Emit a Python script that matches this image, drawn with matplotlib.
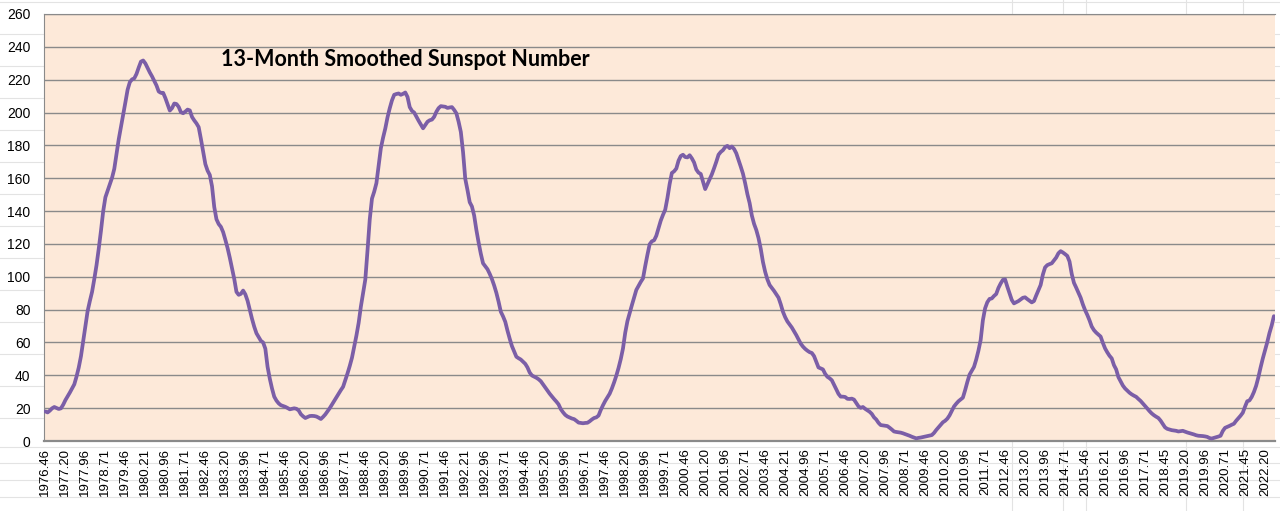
import numpy as np
import matplotlib
matplotlib.use("Agg")
import matplotlib.pyplot as plt
from matplotlib.lines import Line2D

# 13-month smoothed sunspot number, monthly from 1976.46 (one row per 12 months)
sunspots = [
    18.0, 17.4, 18.5, 19.9, 20.7, 20.1, 19.5, 19.9, 22.1, 24.9, 27.2, 29.5,
    32.0, 34.5, 39.2, 44.7, 51.6, 60.6, 69.9, 79.1, 85.2, 90.8, 98.6, 107.0,
    117.0, 127.9, 139.8, 148.4, 152.4, 156.3, 160.3, 165.7, 174.8, 183.7, 191.1, 198.5,
    206.2, 213.9, 218.5, 220.2, 220.8, 223.5, 227.4, 231.0, 231.7, 229.9, 227.1, 224.4,
    222.0, 219.2, 216.5, 212.8, 212.0, 212.0, 208.8, 204.9, 201.2, 202.7, 205.5, 205.2,
    203.4, 200.2, 199.6, 200.6, 201.8, 201.3, 197.3, 195.2, 193.4, 191.1, 183.9, 176.2,
    168.6, 164.6, 162.0, 155.1, 142.5, 135.0, 132.1, 130.4, 127.2, 122.5, 117.5, 111.6,
    105.3, 98.7, 90.8, 89.0, 89.6, 91.6, 89.3, 85.4, 80.0, 74.4, 69.6, 65.6,
    63.3, 61.0, 60.0, 56.2, 45.2, 38.0, 32.0, 27.0, 24.6, 22.9, 21.8, 21.3,
    20.8, 20.1, 19.3, 19.6, 19.9, 19.6, 18.6, 16.3, 15.0, 14.0, 14.6, 15.2,
    15.3, 15.2, 14.9, 14.2, 13.4, 14.7, 16.2, 18.1, 20.0, 22.2, 24.3, 26.6,
    28.9, 31.0, 33.0, 37.0, 41.2, 45.7, 50.7, 57.5, 64.2, 71.9, 81.8, 90.0,
    98.3, 116.1, 134.9, 147.6, 151.8, 157.0, 167.9, 178.3, 184.7, 190.3, 197.1, 202.6,
    207.4, 210.8, 211.3, 211.6, 210.8, 211.4, 212.2, 209.5, 203.3, 201.0, 200.0, 197.5,
    195.0, 192.7, 190.4, 192.4, 194.4, 195.3, 195.7, 197.4, 200.5, 202.7, 203.9, 203.7,
    203.5, 202.8, 203.1, 203.3, 201.6, 199.5, 194.4, 188.2, 175.9, 159.6, 152.8, 145.4,
    142.8, 137.3, 128.5, 120.9, 114.0, 108.2, 106.4, 104.6, 101.8, 98.6, 94.7, 90.2,
    84.8, 78.7, 75.9, 72.6, 67.2, 62.3, 57.8, 54.6, 51.3, 50.4, 49.6, 48.3,
    47.0, 44.8, 41.7, 39.9, 39.2, 38.5, 37.6, 36.4, 34.5, 32.6, 30.7, 28.8,
    27.1, 25.5, 24.0, 22.3, 19.4, 17.5, 15.9, 14.9, 14.3, 13.7, 13.3, 12.3,
    11.2, 11.0, 10.8, 11.0, 11.1, 12.0, 13.1, 14.0, 14.4, 15.5, 18.9, 21.8,
    24.4, 26.6, 28.8, 32.0, 35.7, 39.8, 44.5, 49.9, 56.4, 65.9, 73.0, 77.9,
    82.7, 87.4, 92.0, 94.5, 96.9, 99.0, 106.5, 113.4, 119.8, 121.6, 122.2, 125.0,
    129.5, 134.2, 137.7, 140.8, 148.0, 156.5, 163.2, 164.2, 165.9, 170.7, 173.5, 174.3,
    172.9, 172.7, 174.0, 172.1, 169.6, 165.3, 163.4, 162.6, 157.9, 153.4, 156.4, 159.4,
    162.4, 166.1, 170.0, 174.3, 176.0, 177.1, 179.0, 179.7, 178.3, 179.3, 177.8, 175.2,
    171.2, 167.1, 162.8, 156.9, 150.3, 144.9, 137.3, 132.2, 128.5, 123.6, 117.1, 109.0,
    103.0, 98.4, 95.0, 93.2, 91.4, 89.4, 87.3, 83.3, 78.7, 75.4, 72.8, 71.0,
    69.1, 66.8, 64.5, 61.9, 59.3, 57.5, 56.1, 55.0, 54.1, 53.6, 51.7, 48.3,
    44.8, 44.2, 43.6, 40.9, 39.1, 38.2, 37.0, 34.3, 31.5, 28.7, 27.0, 27.0,
    26.8, 25.7, 25.6, 25.8, 25.2, 23.1, 21.1, 20.2, 20.7, 19.6, 18.7, 17.8,
    16.5, 14.4, 13.1, 11.1, 9.7, 9.5, 9.3, 9.1, 8.1, 7.0, 5.8, 5.5,
    5.3, 5.1, 4.7, 4.2, 3.7, 3.2, 2.6, 2.1, 1.6, 1.9, 2.1, 2.4,
    2.7, 3.0, 3.3, 3.6, 4.9, 6.7, 8.3, 9.9, 11.4, 12.3, 13.6, 15.6,
    18.3, 21.0, 22.7, 24.2, 25.3, 26.4, 30.9, 35.9, 40.4, 42.8, 45.1, 49.6,
    55.0, 61.5, 73.5, 80.8, 84.5, 86.5, 86.8, 88.3, 89.5, 93.2, 95.9, 98.1,
    98.4, 94.0, 89.9, 85.9, 83.8, 84.5, 85.2, 86.2, 87.2, 87.5, 86.4, 85.4,
    84.4, 85.2, 88.6, 91.8, 95.0, 101.3, 105.7, 107.1, 107.7, 108.2, 109.9, 111.7,
    114.3, 115.6, 114.8, 113.8, 112.7, 109.3, 101.7, 96.3, 93.4, 90.3, 87.3, 83.2,
    79.7, 76.8, 73.5, 69.7, 67.5, 66.0, 64.8, 63.6, 59.8, 56.4, 54.0, 51.9,
    50.3, 46.2, 43.6, 38.9, 36.4, 33.8, 32.0, 30.7, 29.4, 28.4, 27.6, 26.9,
    25.6, 24.4, 22.9, 21.4, 19.8, 18.2, 16.8, 15.7, 14.8, 14.0, 12.4, 10.4,
    8.3, 7.4, 7.0, 6.6, 6.4, 6.2, 5.8, 6.0, 6.2, 5.7, 5.2, 4.8,
    4.4, 4.0, 3.5, 3.2, 3.1, 3.0, 2.8, 2.5, 1.8, 1.5, 1.9, 2.3,
    2.7, 3.2, 6.1, 8.0, 8.6, 9.2, 9.9, 10.5, 12.3, 13.8, 15.4, 17.2,
    20.9, 24.2, 24.7, 26.8, 29.8, 33.6, 38.7, 44.7, 50.2, 55.2, 60.1, 65.7,
    70.3, 76.0,
]

# category labels shown every 9 months
tick_labels = [
    "1976.46", "1977.20", "1977.96", "1978.71", "1979.46", "1980.21", "1980.96",
    "1981.71", "1982.46", "1983.20", "1983.96", "1984.71", "1985.46", "1986.20",
    "1986.96", "1987.71", "1988.46", "1989.20", "1989.96", "1990.71", "1991.46",
    "1992.21", "1992.96", "1993.71", "1994.46", "1995.20", "1995.96", "1996.71",
    "1997.46", "1998.20", "1998.96", "1999.71", "2000.46", "2001.20", "2001.96",
    "2002.71", "2003.46", "2004.21", "2004.96", "2005.71", "2006.46", "2007.20",
    "2007.96", "2008.71", "2009.46", "2010.20", "2010.96", "2011.71", "2012.46",
    "2013.20", "2013.96", "2014.71", "2015.46", "2016.21", "2016.96", "2017.71",
    "2018.45", "2019.20", "2019.96", "2020.71", "2021.45", "2022.20",
]
label_step = 9
y_ticks = list(range(0, 261, 20))
title = "13-Month Smoothed Sunspot Number"

W, H = 1280, 511
fig = plt.figure(figsize=(W / 100, H / 100), dpi=100)
fig.patch.set_facecolor("white")

# faint spreadsheet cell lines behind the chart
cell_col = "#e3e3e3"
for yp in list(range(2, 440, 32)) + [447, 463, 480, 497]:
    fig.add_artist(Line2D([0, 1], [1 - yp / H] * 2, color=cell_col, lw=0.8, zorder=0))
for xp in [1012, 1063, 1086, 1186, 1243]:
    fig.add_artist(Line2D([xp / W] * 2, [0, 1], color=cell_col, lw=0.8, zorder=0))

ax = fig.add_axes([44.3 / W, 1 - 441 / H, (1275 - 44.3) / W, (441 - 14) / H])
ax.set_facecolor("#FDE9D9")

x = np.arange(len(sunspots))
ax.plot(x, sunspots, color="#7B5EA7", lw=2.7,
        solid_joinstyle="round", solid_capstyle="round", zorder=3)

ax.set_xlim(-0.5, len(sunspots) - 0.5)
ax.set_ylim(0, 260)
ax.set_yticks(y_ticks)
ax.yaxis.grid(True, color="#8a8a8a", lw=1.0)
ax.set_axisbelow(True)

ax.set_xticks(np.arange(len(tick_labels)) * label_step)
ax.set_xticklabels(tick_labels, rotation=90, fontsize=9.5, family="Liberation Sans")
for lab in ax.get_yticklabels():
    lab.set_family("Liberation Sans")
    lab.set_fontsize(10)
ax.tick_params(axis="both", length=0, colors="black")
ax.tick_params(axis="y", pad=10)
ax.tick_params(axis="x", pad=5)

for side in ["top", "left", "bottom"]:
    ax.spines[side].set_color("#8a8a8a")
ax.spines["bottom"].set_linewidth(1.6)
ax.spines["right"].set_visible(False)

fig.text(221 / W, 1 - 60 / H, title, fontsize=15.5, fontweight="bold",
         family="Lato", va="center", ha="left", color="black")

fig.savefig("out.png", dpi=100, facecolor=fig.get_facecolor())
